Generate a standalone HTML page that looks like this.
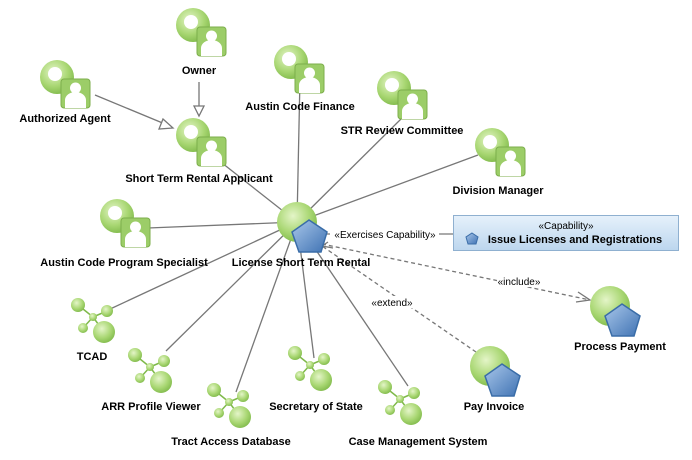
<!DOCTYPE html>
<html><head><meta charset="utf-8"><style>
html,body{margin:0;padding:0;background:#fff;}
svg{display:block;}
text{font-family:"Liberation Sans",sans-serif;font-size:11px;font-weight:bold;fill:#000;text-anchor:middle;}
.n{font-weight:normal;font-size:10px;}
</style></head><body>
<svg width="692" height="460" viewBox="0 0 692 460" xmlns="http://www.w3.org/2000/svg">
<defs>
<radialGradient id="g" cx="0.4" cy="0.35" r="0.7"><stop offset="0" stop-color="#e4f5c8"/><stop offset="0.6" stop-color="#a9d773"/><stop offset="1" stop-color="#7fb94a"/></radialGradient>
<linearGradient id="b" x1="0" y1="0" x2="1" y2="1"><stop offset="0" stop-color="#a9c7ea"/><stop offset="1" stop-color="#3f72b3"/></linearGradient>
<linearGradient id="box" x1="0" y1="0" x2="0" y2="1"><stop offset="0" stop-color="#e6f1fb"/><stop offset="1" stop-color="#bcd6ee"/></linearGradient>
<g id="actor">
<circle cx="0" cy="0" r="17" fill="url(#g)"/><circle cx="-2" cy="-3" r="7" fill="#fff"/>
<rect x="4" y="2" width="29" height="29" rx="3" fill="#9ccd68" stroke="#7cae4b"/>
<circle cx="18.5" cy="11" r="5.5" fill="#fff"/><path d="M8 31 v-8 a10.5 8 0 0 1 21 0 v8z" fill="#fff"/>
</g>
<g id="uc"><circle cx="0" cy="0" r="20" fill="url(#g)"/>
<polygon points="14,0 32,12 26,32 4,32 -3,12" transform="translate(-2,-2)" fill="url(#b)" stroke="#3a6da8" stroke-width="1.5"/></g>
<g id="sys" stroke="#7fb94a" stroke-width="1.5" fill="url(#g)">
<line x1="-15" y1="-15" x2="0" y2="-3"/><line x1="14" y1="-9" x2="0" y2="-3"/><line x1="-10" y1="8" x2="0" y2="-3"/><line x1="11" y1="12" x2="0" y2="-3"/>
<circle cx="-15" cy="-15" r="7" stroke="none"/><circle cx="14" cy="-9" r="6" stroke="none"/><circle cx="-10" cy="8" r="5" stroke="none"/><circle cx="11" cy="12" r="11" stroke="none"/><circle cx="0" cy="-3" r="4" stroke="none"/>
</g>
</defs>
<g stroke="#777" stroke-width="1.3" fill="none">
<line x1="297" y1="222" x2="222" y2="163"/>
<line x1="297" y1="222" x2="300" y2="78"/>
<line x1="297" y1="222" x2="402" y2="118"/>
<line x1="297" y1="222" x2="478" y2="155"/>
<line x1="297" y1="222" x2="148" y2="228"/>
<line x1="297" y1="222" x2="108" y2="310"/>
<line x1="297" y1="222" x2="166" y2="351"/>
<line x1="297" y1="222" x2="236" y2="392"/>
<line x1="297" y1="222" x2="314" y2="358"/>
<line x1="297" y1="222" x2="408" y2="386"/>
<line x1="318" y1="234" x2="453" y2="234"/>
<line x1="199" y1="82" x2="199" y2="106"/>
<line x1="95" y1="95" x2="165" y2="124"/>
<polygon points="194,106 204,106 199,116" fill="#fff"/>
<polygon points="163,119 159,129 173,128" fill="#fff"/>
</g>
<g stroke="#777" stroke-width="1.3" fill="none" stroke-dasharray="4,3">
<line x1="322" y1="244" x2="590" y2="300"/>
<line x1="476" y1="352" x2="322" y2="246"/>
</g>
<g stroke="#777" stroke-width="1.3" fill="none">
<polyline points="578,292 590,300 576,302"/>
<polyline points="328,242 322,246 333,248"/>
</g>
<use href="#actor" x="193" y="25"/>
<use href="#actor" x="57" y="77"/>
<use href="#actor" x="193" y="135"/>
<use href="#actor" x="291" y="62"/>
<use href="#actor" x="394" y="88"/>
<use href="#actor" x="492" y="145"/>
<use href="#actor" x="117" y="216"/>
<use href="#uc" x="297" y="222"/>
<use href="#uc" x="610" y="306"/>
<use href="#uc" x="490" y="366"/>
<use href="#sys" x="93" y="320"/>
<use href="#sys" x="150" y="370"/>
<use href="#sys" x="229" y="405"/>
<use href="#sys" x="310" y="368"/>
<use href="#sys" x="400" y="402"/>
<rect x="453.5" y="215.5" width="225" height="35" fill="url(#box)" stroke="#8fb0d0"/>
<polygon points="472,233 478,237 476,244 468,244 466,237" fill="url(#b)" stroke="#3a6da8"/>
<text class="n" x="566" y="229">«Capability»</text>
<text x="575" y="243">Issue Licenses and Registrations</text>
<text x="199" y="74">Owner</text>
<text x="65" y="122">Authorized Agent</text>
<text x="199" y="182">Short Term Rental Applicant</text>
<text x="300" y="110">Austin Code Finance</text>
<text x="402" y="134">STR Review Committee</text>
<text x="498" y="194">Division  Manager</text>
<text x="124" y="266">Austin Code Program Specialist</text>
<text x="301" y="266">License Short Term Rental</text>
<text x="620" y="350">Process Payment</text>
<text x="494" y="410">Pay Invoice</text>
<text x="92" y="360">TCAD</text>
<text x="151" y="410">ARR Profile Viewer</text>
<text x="231" y="445">Tract Access Database</text>
<text x="316" y="410">Secretary of State</text>
<text x="418" y="445">Case Management System</text>
<rect x="330" y="227" width="109" height="13" fill="#fff"/>
<text class="n" x="385" y="238">«Exercises Capability»</text>
<rect x="369" y="296" width="46" height="12" fill="#fff"/>
<text class="n" x="392" y="306">«extend»</text>
<rect x="497" y="275" width="45" height="12" fill="#fff"/>
<text class="n" x="519" y="285">«include»</text>
</svg>
</body></html>
